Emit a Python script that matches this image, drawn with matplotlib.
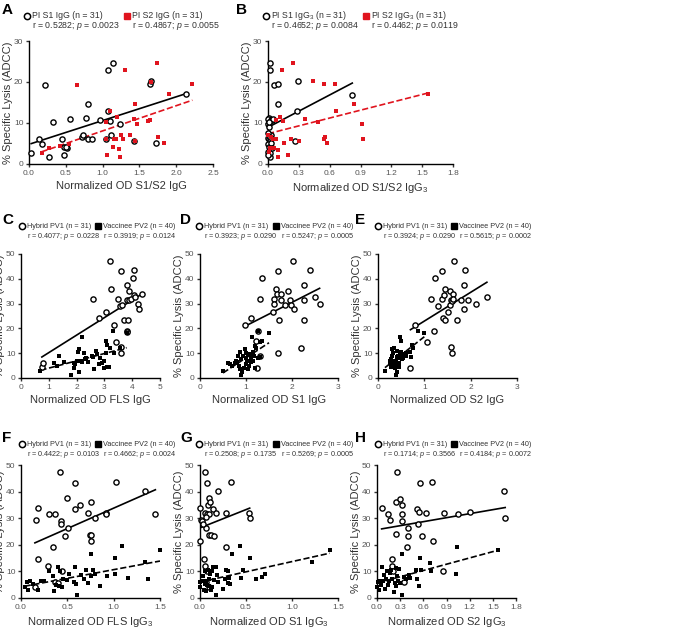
import numpy as np
import matplotlib
matplotlib.use("Agg")
import matplotlib.pyplot as plt

plt.rcParams["font.family"] = ["Liberation Sans", "DejaVu Sans"]
plt.rcParams["mathtext.fontset"] = "custom"
plt.rcParams["mathtext.rm"] = "Liberation Sans"
plt.rcParams["mathtext.it"] = "Liberation Sans:italic"

# ── dati ────────────────────────────────────────────────────────────────────
A1_x = [0.03,0.13,0.17,0.22,0.27,0.32,0.45,0.47,0.48,0.52,0.56,0.72,0.74,0.77,0.8,0.8,0.86,0.97,1.07,1.08,1.1,1.11,1.14,1.23,1.42,1.65,1.66,1.72,2.13,0.5,1.05]
A1_y = [2.8,6,4.8,19.3,1.8,10.2,6.1,4.2,2.3,4,11,6.5,7,11.3,14.6,6.2,6,10.7,23,13,10.5,7,24.6,9.7,5.6,19.6,20.2,5,17,4.2,6]
A2_x = [0.17,0.27,0.42,0.55,0.65,1.04,1.05,1.06,1.1,1.14,1.15,1.2,1.22,1.23,1.25,1.28,1.3,1.37,1.42,1.44,1.44,1.47,1.62,1.65,1.66,1.74,1.75,1.84,1.9,2.22,1.18]
A2_y = [2.8,3.8,4.5,4.8,19.3,6,10.3,2.3,13,4.2,6,11.4,3.6,1.8,7,6.2,23,7,11,14.6,5.6,9.7,10.6,10.7,20,24.6,6.5,5,17,19.5,6.2]

B1_x = [0.02,0.02,0.01,0.0,0.03,0.04,0.0,0.01,0.02,0.0,0.01,0.03,0.02,0.0,0.06,0.1,0.1,0.26,0.28,0.29,0.0,0.01,0.03,0.02,0.05,0.04,0.0,0.0,0.82,0.01,0.02]
B1_y = [24.6,23,11.3,11,10.7,10.7,6.3,6,5.6,4.8,4.2,5,1.8,3,19.3,19.6,14.6,5.6,13,20.2,9.8,9,7,2.8,11,4,2.3,7.5,16.9,10.2,6.6]
B2_x = [0.0,0.01,0.02,0.03,0.05,0.06,0.08,0.08,0.1,0.1,0.12,0.14,0.15,0.16,0.19,0.22,0.24,0.3,0.36,0.44,0.49,0.54,0.55,0.54,0.57,0.65,0.66,0.84,0.91,0.92,1.56]
B2_y = [7,3,4,6.5,6,4,6.2,10.8,3.5,1.8,11.4,23,10.5,5,2.3,6,24.6,5.6,11,20.2,10.3,19.4,6.5,6.2,5,19.5,13,14.6,9.7,6,17]

C1_x = [0.75,0.78,2.6,2.8,3.05,3.2,3.22,3.35,3.4,3.5,3.55,3.58,3.58,3.6,3.65,3.7,3.8,3.82,3.82,3.84,3.8,3.88,3.9,3.95,4.02,4.05,4.05,4.1,4.2,4.25,4.35]
C1_y = [4.5,6,31.7,24,26.5,47,36,21.5,14.6,32,29,12.5,10,43,29.5,23.5,37.5,19,18.5,23.5,31.5,35,31.5,32,40.3,43.5,33.5,32.5,30,28,34]
C2_x = [0.7,1.2,1.3,1.35,1.55,1.8,1.9,1.9,1.95,2.0,2.05,2.1,2.1,2.15,2.2,2.2,2.25,2.3,2.35,2.4,2.55,2.6,2.62,2.7,2.75,2.8,2.85,2.9,3.0,3.05,3.05,3.1,3.1,3.15,3.2,3.3,3.35,3.55,3.8,3.0]
C2_y = [3,6,5,9,6.6,1.3,6,4,5.5,7,10.5,11.5,2.3,7,6.5,16.5,10,7.5,8,6.5,9,8.5,3.5,11,9.5,5.5,8,6,7,15,10,13.5,4.5,4.5,12,19,10,12,18,4.2]

D1_x = [0.98,1.1,1.3,1.35,1.58,1.6,1.65,1.68,1.7,1.7,1.72,1.75,1.75,1.85,1.92,1.95,1.97,2.02,2.05,2.2,2.25,2.25,2.25,2.4,2.5,2.6,1.22,1.27,1.23,1.3,1.6]
D1_y = [21.5,24,32,40.5,26.5,32,36,34,43,10,23.5,34,31.5,29.5,35,31.5,29.5,47,28,12,31.5,37.5,23.5,43.5,32.5,30,15,19,4.2,9,30]
D2_x = [0.5,0.65,0.7,0.75,0.8,0.82,0.85,0.88,0.9,0.9,0.92,0.95,0.97,1.0,1.0,1.02,1.05,1.05,1.07,1.1,1.1,1.12,1.15,1.15,1.18,1.2,1.2,1.22,1.25,1.25,1.3,1.3,1.35,1.5,0.6,0.78,0.87,1.08,0.93,1.0]
D2_y = [3,5.5,5,6,6.5,8.8,5,10.5,1.3,7.5,2.5,4,11.5,5.5,8,7,3.5,9.5,5,6.5,8,16.5,10.5,7,9,4,13,12,8,19,14.5,8.5,15,18,6,6.8,3.5,9.8,9,10]

E1_x = [0.7,0.8,1.05,1.15,1.2,1.22,1.3,1.38,1.38,1.4,1.42,1.45,1.45,1.5,1.55,1.55,1.58,1.58,1.6,1.62,1.65,1.7,1.8,1.85,1.85,1.95,2.12,2.35,1.6,1.87,1.62]
E1_y = [4.2,21.5,14.6,32,19,40.5,29,43,32,24,33.5,23.5,36,26.5,35,29.5,31.5,12.5,10,34,47,23.5,31.5,37.5,28,31.5,30,32.5,31,43.5,32]
E2_x = [0.15,0.25,0.27,0.28,0.3,0.3,0.32,0.33,0.35,0.36,0.38,0.38,0.4,0.4,0.42,0.42,0.44,0.45,0.47,0.48,0.48,0.5,0.5,0.52,0.55,0.55,0.6,0.7,0.72,0.73,0.75,0.87,1.0,0.3,0.35,0.25,0.6,0.45,0.33,0.4]
E2_y = [3,6,4.5,7.5,9,11.5,5.5,6.5,12,4,1.3,7,8,2.5,5.5,8.5,9,6,16.5,8,10,15,10.5,7.5,9.5,8,9,10.5,8.5,13.5,12,19,18,5,6.8,7,10,4.5,10,11]

F1_x = [0.15,0.16,0.18,0.18,0.29,0.3,0.35,0.37,0.37,0.42,0.43,0.43,0.44,0.47,0.5,0.51,0.58,0.58,0.64,0.72,0.74,0.75,0.76,0.76,0.8,0.92,0.92,1.03,1.34,1.45,0.4]
F1_y = [4.3,29.5,34,14.6,12.2,31.5,19,31.5,6,47.2,29,28,10,23.3,37.5,26.5,33.5,43.2,35,31.8,23.5,21.4,23.8,36,30,32,31.5,43.6,40.3,31.5,5.5]
F2_x = [0.04,0.06,0.08,0.1,0.13,0.18,0.22,0.25,0.3,0.35,0.36,0.38,0.4,0.41,0.42,0.44,0.45,0.5,0.52,0.57,0.58,0.59,0.6,0.65,0.68,0.7,0.72,0.75,0.75,0.78,0.8,0.85,0.93,1.01,1.01,1.09,1.16,1.34,1.37,1.5]
F2_y = [4.2,6.2,2.9,6.3,5.4,3,6.4,6.5,10,8.3,2.5,5,11.5,4.6,10,4.2,7,6.6,8.9,6,11.5,5.4,1.3,8.5,7.3,10.5,5.8,16.5,8.3,10.7,9,4.5,8.4,15,9.2,19.4,7.4,13.5,7,18]

G1_x = [0.0,0.0,0.01,0.02,0.04,0.05,0.05,0.05,0.07,0.08,0.08,0.08,0.09,0.1,0.1,0.11,0.1,0.12,0.15,0.14,0.17,0.2,0.28,0.28,0.34,0.53,0.54,0.07,0.1,0.03,0.06]
G1_y = [34,21.5,29.5,29,14.6,12.2,47.2,32,26.5,43.2,31.5,10,35,37.5,31.5,36,23.8,23.5,23.3,33.5,31.8,40.3,19,31.8,43.6,32,30,6,4.3,28,30.5]
G2_x = [0.0,0.0,0.02,0.03,0.04,0.05,0.05,0.06,0.07,0.08,0.09,0.1,0.1,0.11,0.12,0.13,0.13,0.14,0.15,0.17,0.17,0.19,0.2,0.25,0.27,0.28,0.3,0.3,0.31,0.33,0.35,0.44,0.45,0.47,0.54,0.61,0.67,0.71,1.22,1.41]
G2_y = [4.2,6.2,6.5,8.3,2.9,10,5.4,2.5,6.4,5,10.5,7,4.6,9,3,4.2,10,11.5,6.6,1.3,11.5,8.5,6,3.5,7.3,10.5,10,5.8,7.4,5.4,16.5,19.4,7.4,10.5,15,7,8,9,13.5,18]

H1_x = [0.06,0.14,0.17,0.19,0.2,0.24,0.25,0.26,0.3,0.32,0.33,0.33,0.35,0.39,0.4,0.4,0.52,0.53,0.55,0.56,0.58,0.64,0.71,0.72,0.85,0.87,1.05,1.21,1.64,1.66,0.21]
H1_y = [34,31.4,29.4,14.6,12.2,24,36,47.2,37.4,29,35,31.5,6,19,26.5,23.3,33.5,28,32.4,43.2,23.3,31.8,43.6,21.4,10,31.8,31.5,32.2,40.3,30,10]
H2_x = [0.0,0.01,0.02,0.04,0.06,0.08,0.09,0.1,0.12,0.13,0.14,0.16,0.17,0.18,0.2,0.22,0.23,0.24,0.25,0.26,0.27,0.3,0.32,0.33,0.35,0.38,0.42,0.43,0.5,0.52,0.54,0.56,0.57,0.68,0.7,1.02,1.04,1.57,0.28,0.05]
H2_y = [4.2,6.2,3,6.4,11.5,6.5,8.5,3.5,7.2,10,4.7,6.3,9.4,10.5,7,2.3,5.5,11.3,4.5,8.2,6.4,5.5,1.3,16.5,8,7.3,8.5,7.5,10.4,7,4.4,15,10.5,13.3,10,9.1,19.3,18,11,5]

LAB_A = ["PI S1 IgG (n = 31)", "PI S2 IgG (n = 31)"]
LAB_B = ["PI S1 IgG$_3$ (n = 31)", "PI S2 IgG$_3$ (n = 31)"]
LAB_HV = ["Hybrid PV1 (n = 31)", "Vaccinee PV2 (n = 40)"]
STATS = {
    "A": [("0.5282", "0.0023"), ("0.4867", "0.0055")],
    "B": [("0.4652", "0.0084"), ("0.4462", "0.0119")],
    "C": [("0.4077", "0.0228"), ("0.3919", "0.0124")],
    "D": [("0.3923", "0.0290"), ("0.5247", "0.0005")],
    "E": [("0.3924", "0.0290"), ("0.5615", "0.0002")],
    "F": [("0.4422", "0.0103"), ("0.4662", "0.0024")],
    "G": [("0.2508", "0.1735"), ("0.5269", "0.0005")],
    "H": [("0.1714", "0.3566"), ("0.4184", "0.0072")],
}

W, H = 700, 631
fig = plt.figure(figsize=(7, 6.31), dpi=100)
RED = "#e0141e"

PANELS = [
    ("A", (29, 41, 213, 164), A1_x, A1_y, A2_x, A2_y, (0, 2.5), np.arange(0, 2.6, 0.5), "%.1f", 30, 10,
     "Normalized OD S1/S2 IgG", LAB_A, RED, (2, 27, 127, 16), 6.3),
    ("B", (268, 41, 453, 164), B1_x, B1_y, B2_x, B2_y, (0, 1.8), np.arange(0, 1.81, 0.3), "%.1f", 30, 10,
     "Normalized OD S1/S2 IgG$_3$", LAB_B, RED, (236, 266, 366, 16), 6.3),
    ("C", (21, 254, 160, 378), C1_x, C1_y, C2_x, C2_y, (0, 5), np.arange(0, 6, 1), "%d", 50, 10,
     "Normalized OD FLS IgG", LAB_HV, "black", (2, 22, 98, 226), 5.2),
    ("D", (200, 254, 338, 378), D1_x, D1_y, D2_x, D2_y, (0, 3), np.arange(0, 4, 1), "%d", 50, 10,
     "Normalized OD S1 IgG", LAB_HV, "black", (180, 199, 276, 226), 5.2),
    ("E", (378, 254, 517, 378), E1_x, E1_y, E2_x, E2_y, (0, 3), np.arange(0, 4, 1), "%d", 50, 10,
     "Normalized OD S2 IgG", LAB_HV, "black", (355, 378, 454, 226), 5.2),
    ("F", (21, 465, 160, 598), F1_x, F1_y, F2_x, F2_y, (0, 1.5), np.arange(0, 1.6, 0.5), "%.1f", 50, 10,
     "Normalized OD FLS IgG$_3$", LAB_HV, "black", (2, 22, 98, 444), 5.2),
    ("G", (200, 465, 338, 598), G1_x, G1_y, G2_x, G2_y, (0, 1.5), np.arange(0, 1.6, 0.5), "%.1f", 50, 10,
     "Normalized OD S1 IgG$_3$", LAB_HV, "black", (180, 199, 276, 444), 5.2),
    ("H", (377, 465, 516, 598), H1_x, H1_y, H2_x, H2_y, (0, 1.8), np.arange(0, 1.81, 0.3), "%.1f", 50, 10,
     "Normalized OD S2 IgG$_3$", LAB_HV, "black", (355, 378, 454, 444), 5.2),
]

for (let, (l, t, r, b), x1, y1, x2, y2, xlim, xt, xf, ymax, ystep, xlab, labs, c2, (lx, m1, m2, ly), fs) in PANELS:
    ax = fig.add_axes([l / W, 1 - b / H, (r - l) / W, (b - t) / H])
    x1, y1, x2, y2 = map(np.array, (x1, y1, x2, y2))
    ax.scatter(x1, y1, s=14, facecolors="white", edgecolors="black", linewidths=1.0, zorder=3, clip_on=False)
    ax.scatter(x2, y2, s=10, marker="s", color=c2, linewidths=0, zorder=3, clip_on=False)
    for xx, yy, col, ls in ((x1, y1, "black", "-"), (x2, y2, c2, "--")):
        k, q = np.polyfit(xx, yy, 1)
        xs = np.array([xx.min(), xx.max()])
        ax.plot(xs, k * xs + q, color=col, ls=ls, lw=1.2, zorder=2)
    ax.set_xlim(*xlim)
    ax.set_ylim(0, ymax)
    ax.set_xticks(xt)
    ax.set_xticklabels([xf % v for v in xt])
    ax.set_yticks(np.arange(0, ymax + 1, ystep))
    for s in ("top", "right"):
        ax.spines[s].set_visible(False)
    for s in ("left", "bottom"):
        ax.spines[s].set_linewidth(1.0)
    ax.tick_params(labelsize=6, width=1.0, length=2.5, pad=1.5, colors="#333333", labelcolor="#555555")
    ax.set_xlabel(xlab, fontsize=8, labelpad=3, color="#333333")
    ax.set_ylabel("% Specific Lysis (ADCC)", fontsize=8, labelpad=1, color="#333333")

    fig.text(lx / W, 1 - (ly - 6) / H, let, fontsize=11, fontweight="bold", va="center")
    st = STATS[let]
    for i, (mx, lab) in enumerate(((m1, labs[0]), (m2, labs[1]))):
        if i == 0:
            fig.lines.append(plt.Line2D([mx / W], [1 - ly / H], marker="o", ms=4.5, mfc="white", mec="black",
                                        mew=1.1, transform=fig.transFigure))
        else:
            fig.lines.append(plt.Line2D([mx / W], [1 - ly / H], marker="s", ms=4, color=c2,
                                        transform=fig.transFigure))
        fig.text((mx + 5) / W, 1 - ly / H, lab, fontsize=fs, va="center", color="#333333")
        fig.text((mx + 5) / W, 1 - (ly + 10) / H, r"r = %s; $\it{p}$ = %s" % st[i], fontsize=fs,
                 va="center", color="#333333")

fig.savefig("out.png", dpi=100)
